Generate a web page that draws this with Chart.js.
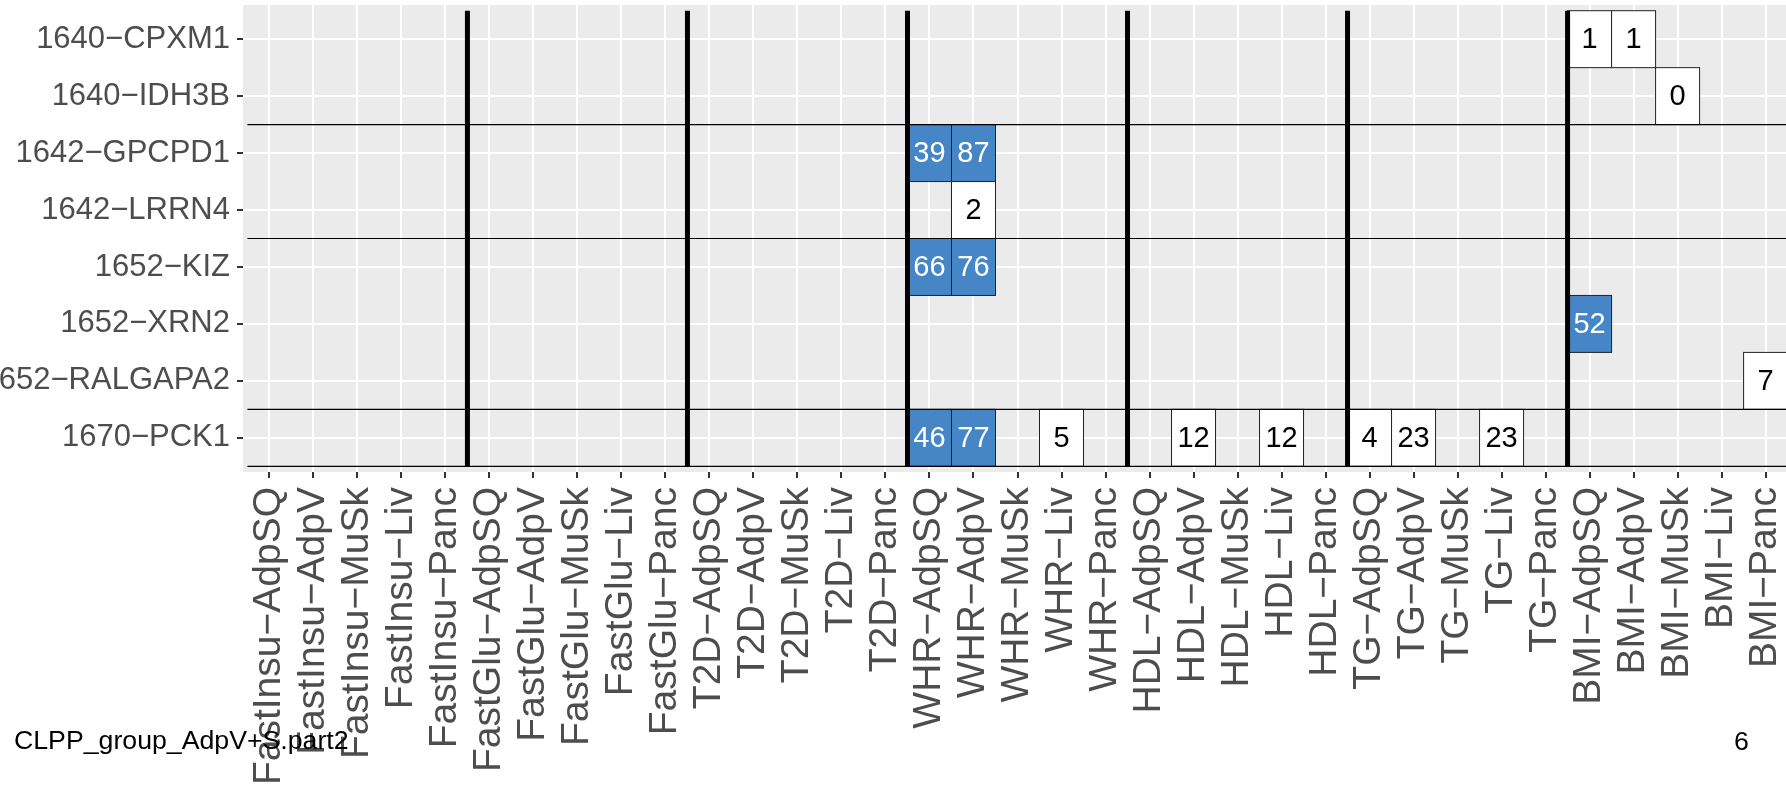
<!DOCTYPE html>
<html>
<head>
<meta charset="utf-8">
<script src="https://cdn.jsdelivr.net/npm/chart.js@4.4.1/dist/chart.umd.min.js"></script>
<style>
  html, body { margin: 0; padding: 0; background: #ffffff; overflow: hidden; }
  #wrap { position: relative; width: 1786px; height: 790px; overflow: hidden; }
  #c { position: absolute; left: 0; top: 0; }
  .cap { position: absolute; font-family: "Liberation Sans", Arial, sans-serif; font-size: 26.7px; line-height: 26px; color: #000; white-space: nowrap; }
</style>
</head>
<body>
<div id="wrap">
  <canvas id="c" width="1792" height="790"></canvas>
  <div class="cap" style="left:14px; top:727px;">CLPP_group_AdpV+S.part2</div>
  <div class="cap" style="left:1734px; top:728px;">6</div>
</div>
<script>
// ---- data ----
const traits  = ['FastInsu', 'FastGlu', 'T2D', 'WHR', 'HDL', 'TG', 'BMI'];
const tissues = ['AdpSQ', 'AdpV', 'MuSk', 'Liv', 'Panc'];
const genes   = ['1640-CPXM1', '1640-IDH3B', '1642-GPCPD1', '1642-LRRN4',
                 '1652-KIZ', '1652-XRN2', '1652-RALGAPA2', '1670-PCK1'];

const cellGene = ['1640-CPXM1', '1640-CPXM1', '1640-IDH3B', '1642-GPCPD1', '1642-GPCPD1',
                  '1642-LRRN4', '1652-KIZ', '1652-KIZ', '1652-XRN2', '1652-RALGAPA2',
                  '1670-PCK1', '1670-PCK1', '1670-PCK1', '1670-PCK1', '1670-PCK1',
                  '1670-PCK1', '1670-PCK1', '1670-PCK1'];
const cellColumn = ['BMI-AdpSQ', 'BMI-AdpV', 'BMI-MuSk', 'WHR-AdpSQ', 'WHR-AdpV',
                    'WHR-AdpV', 'WHR-AdpSQ', 'WHR-AdpV', 'BMI-AdpSQ', 'BMI-Panc',
                    'WHR-AdpSQ', 'WHR-AdpV', 'WHR-Liv', 'HDL-AdpV', 'HDL-Liv',
                    'TG-AdpSQ', 'TG-AdpV', 'TG-Liv'];
const cellValue = [1, 1, 0, 39, 87, 2, 66, 76, 52, 7, 46, 77, 5, 12, 12, 4, 23, 23];
const cellSignificant = [false, false, false, true, true, false, true, true, true, false,
                         true, true, false, false, false, false, false, false];

// ---- derived ----
const MINUS = '\u2212';
const xKeys = traits.flatMap(t => tissues.map(s => t + '-' + s));
const xLabels = xKeys.map(k => k.replace('-', MINUS));
const yLabels = genes.map(g => g.replace('-', MINUS));

const points = cellValue.map((v, i) => ({
  x: xKeys.indexOf(cellColumn[i]),
  y: genes.indexOf(cellGene[i]),
  v: v,
  sig: cellSignificant[i]
}));

// separators between traits and after each gene-group
const traitBounds = traits.slice(1).map((_, i) => (i + 1) * tissues.length - 0.5);
const groupBounds = [];
genes.forEach((g, i) => {
  const p = g.split('-')[0];
  const next = genes[i + 1];
  if (!next || next.split('-')[0] !== p) groupBounds.push(i + 0.5);
});

const BLUE = '#4686C6';
const FONT = 'Liberation Sans';

const tilePlugin = {
  id: 'tiles',
  beforeDraw(chart) {
    const a = chart.chartArea, ctx = chart.ctx;
    ctx.save();
    ctx.fillStyle = '#EBEBEB';
    ctx.fillRect(a.left, a.top, a.right - a.left, a.bottom - a.top);
    ctx.restore();
  },
  afterDatasetsDraw(chart) {
    const ctx = chart.ctx, xs = chart.scales.x, ys = chart.scales.y;
    const pts = chart.data.datasets[0].data;
    ctx.save();
    // tiles
    pts.forEach(p => {
      const l = xs.getPixelForValue(p.x - 0.5), r = xs.getPixelForValue(p.x + 0.5);
      const y1 = ys.getPixelForValue(p.y - 0.5), y2 = ys.getPixelForValue(p.y + 0.5);
      const t = Math.min(y1, y2), b = Math.max(y1, y2);
      ctx.fillStyle = p.sig ? BLUE : '#FFFFFF';
      ctx.fillRect(l, t, r - l, b - t);
      ctx.strokeStyle = '#222222';
      ctx.lineWidth = 1;
      ctx.strokeRect(l, t, r - l, b - t);
    });
    // horizontal group lines
    const xl = xs.getPixelForValue(-0.5), xr = xs.getPixelForValue(xKeys.length - 0.5);
    ctx.strokeStyle = '#000000';
    ctx.lineWidth = 1.2;
    groupBounds.forEach(gb => {
      const y = ys.getPixelForValue(gb);
      ctx.beginPath(); ctx.moveTo(xl, y); ctx.lineTo(xr, y); ctx.stroke();
    });
    // thick vertical trait lines
    const yt = ys.getPixelForValue(-0.5), yb = ys.getPixelForValue(genes.length - 0.5);
    ctx.lineWidth = 5;
    ctx.lineCap = 'butt';
    traitBounds.forEach(tb => {
      const x = xs.getPixelForValue(tb);
      ctx.beginPath(); ctx.moveTo(x, yt); ctx.lineTo(x, yb); ctx.stroke();
    });
    // text
    ctx.font = '29px "' + FONT + '"';
    ctx.textAlign = 'center';
    ctx.textBaseline = 'middle';
    pts.forEach(p => {
      ctx.fillStyle = p.sig ? '#FFFFFF' : '#000000';
      ctx.fillText(String(p.v), xs.getPixelForValue(p.x), ys.getPixelForValue(p.y) + 1);
    });
    ctx.restore();
  }
};

new Chart(document.getElementById('c'), {
  type: 'scatter',
  data: {
    datasets: [{ data: points, pointRadius: 0, pointHoverRadius: 0 }]
  },
  plugins: [tilePlugin],
  options: {
    responsive: false,
    animation: false,
    events: [],
    layout: { padding: { top: 5, left: 0, right: 0, bottom: 0 } },
    plugins: { legend: { display: false }, tooltip: { enabled: false } },
    scales: {
      x: {
        type: 'linear',
        position: 'bottom',
        min: -0.6,
        max: xKeys.length - 1 + 0.6,
        afterBuildTicks(s) { s.ticks = xLabels.map((_, i) => ({ value: i })); },
        afterFit(s) { s.height = 318; s.paddingLeft = 0; s.paddingRight = 0; },
        border: { display: false },
        grid: { color: '#FFFFFF', lineWidth: 2, drawTicks: true, tickLength: 6, tickColor: '#333333', tickWidth: 2 },
        ticks: {
          autoSkip: false, maxRotation: 90, minRotation: 90, padding: 9,
          color: '#4D4D4D', font: { family: FONT, size: 39 },
          callback: (v) => xLabels[v]
        }
      },
      y: {
        type: 'linear',
        reverse: true,
        min: -0.6,
        max: genes.length - 1 + 0.6,
        afterBuildTicks(s) { s.ticks = yLabels.map((_, i) => ({ value: i })); },
        afterFit(s) { s.width = 243; s.paddingTop = 0; s.paddingBottom = 0; },
        border: { display: false },
        grid: { color: '#FFFFFF', lineWidth: 2, drawTicks: true, tickLength: 6, tickColor: '#333333', tickWidth: 2 },
        ticks: {
          autoSkip: false, padding: 7,
          color: '#4D4D4D', font: { family: FONT, size: 31 },
          callback: (v) => yLabels[v]
        }
      }
    }
  }
});
</script>
</body>
</html>
